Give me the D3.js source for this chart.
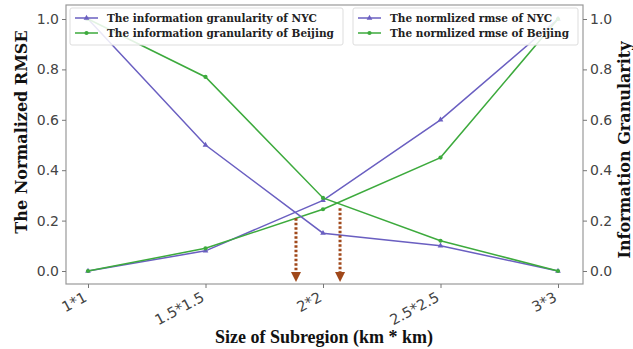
<!DOCTYPE html>
<html><head><meta charset="utf-8">
<script src="https://cdn.jsdelivr.net/npm/d3@7"></script>
<style>body{margin:0;background:#fff}svg{display:block}</style>
</head><body>
<svg id="c" width="633" height="349"></svg>
<script>
const categories = ["1*1","1.5*1.5","2*2","2.5*2.5","3*3"];
const nycGranularity = [1.0, 0.5, 0.15, 0.1, 0.0];
const beijingGranularity = [1.0, 0.77, 0.29, 0.12, 0.0];
const nycRmse = [0.0, 0.08, 0.28, 0.6, 1.0];
const beijingRmse = [0.0, 0.09, 0.245, 0.45, 1.0];
const yTicks = [0, 0.2, 0.4, 0.6, 0.8, 1.0];
// arrow markers: [x index position, value]
const arrowPoints = [[1.77, 0.225], [2.145, 0.265]];

const purple = "#6a5fc1", green = "#3daa3d", brown = "#a0481a";
const svg = d3.select("#c");
const L = 66, R = 583, T = 5, B = 284;
const x = d3.scaleLinear().domain([0, 4]).range([88, 558]);
const yL = d3.scaleLinear().domain([0, 1]).range([271, 19]);
const yR = d3.scaleLinear().domain([0, 1]).range([271, 19]);

// frame
svg.append("rect").attr("x", L).attr("y", T).attr("width", R - L).attr("height", B - T)
  .attr("fill", "none").attr("stroke", "#999").attr("stroke-width", 1.2);

const tickFont = "DejaVu Sans, sans-serif";
const gL = svg.append("g").attr("transform", `translate(${L},0)`)
  .call(d3.axisLeft(yL).tickValues(yTicks).tickFormat(d3.format(".1f")).tickSize(4).tickPadding(3));
const gR = svg.append("g").attr("transform", `translate(${R},0)`)
  .call(d3.axisRight(yR).tickValues(yTicks).tickFormat(d3.format(".1f")).tickSize(4).tickPadding(3));
const gX = svg.append("g").attr("transform", `translate(0,${B})`)
  .call(d3.axisBottom(x).tickValues(d3.range(5)).tickFormat(i => categories[i]).tickSize(4).tickPadding(4));
[gL, gR, gX].forEach(g => {
  g.select(".domain").remove();
  g.selectAll(".tick line").attr("stroke", "#777");
  g.selectAll("text").attr("font-family", tickFont).attr("font-size", 14).attr("fill", "#444");
});
gX.selectAll("text").attr("font-size", 14.5).attr("text-anchor", "end").attr("x", 0).attr("y", 0).attr("dy", "0.35em")
  .attr("transform", "translate(-3,12) rotate(-28)");

const line = (y) => d3.line().x((d, i) => x(i)).y(d => y(d));
function series(vals, y, color, marker) {
  svg.append("path").datum(vals).attr("d", line(y)).attr("fill", "none")
    .attr("stroke", color).attr("stroke-width", 1.5);
  svg.selectAll(null).data(vals).enter().append("path")
    .attr("transform", (d, i) => `translate(${x(i)},${y(d)})`)
    .attr("d", d3.symbol().type(marker).size(14)).attr("fill", color);
}
series(nycRmse, yL, purple, d3.symbolTriangle);
series(beijingRmse, yL, green, d3.symbolCircle);
series(nycGranularity, yR, purple, d3.symbolTriangle);
series(beijingGranularity, yR, green, d3.symbolCircle);

// arrows
arrowPoints.forEach(([xi, v]) => {
  const ax = x(xi), top = yL(v) + 4, bot = B - 2;
  svg.append("line").attr("x1", ax).attr("x2", ax).attr("y1", top).attr("y2", bot - 8)
    .attr("stroke", brown).attr("stroke-width", 3).attr("stroke-dasharray", "2.5,2");
  svg.append("path").attr("d", `M${ax - 5},${bot - 10}L${ax + 5},${bot - 10}L${ax},${bot}Z`).attr("fill", brown);
});

// legends
function legend(x0, y0, w, items) {
  svg.append("rect").attr("x", x0).attr("y", y0).attr("width", w).attr("height", 37)
    .attr("fill", "#fff").attr("fill-opacity", 0.85).attr("stroke", "#ddd").attr("rx", 2);
  items.forEach((it, k) => {
    const yy = y0 + 10 + k * 15;
    svg.append("line").attr("x1", x0 + 5).attr("x2", x0 + 28).attr("y1", yy).attr("y2", yy)
      .attr("stroke", it.c).attr("stroke-width", 1.5);
    svg.append("path").attr("transform", `translate(${x0 + 16.5},${yy})`)
      .attr("d", d3.symbol().type(it.m).size(14)).attr("fill", it.c);
    svg.append("text").attr("x", x0 + 37).attr("y", yy).attr("dy", "0.35em")
      .attr("font-family", "DejaVu Serif, serif").attr("font-weight", "bold")
      .attr("font-size", 10.5).attr("fill", "#222").text(it.t);
  });
}
legend(70, 8, 273, [
  {c: purple, m: d3.symbolTriangle, t: "The information granularity of NYC"},
  {c: green, m: d3.symbolCircle, t: "The information granularity of Beijing"}]);
legend(353, 8, 225, [
  {c: purple, m: d3.symbolTriangle, t: "The normlized rmse of NYC"},
  {c: green, m: d3.symbolCircle, t: "The normlized rmse of Beijing"}]);

// axis titles
svg.append("text").attr("transform", "translate(27,132) rotate(-90)").attr("text-anchor", "middle")
  .attr("font-family", "DejaVu Serif, serif").attr("font-weight", "bold").attr("font-size", 16)
  .attr("fill", "#111").text("The Normalized RMSE");
svg.append("text").attr("transform", "translate(630,150) rotate(-90)").attr("text-anchor", "middle")
  .attr("font-family", "DejaVu Serif, serif").attr("font-weight", "bold").attr("font-size", 16)
  .attr("fill", "#111").text("Information Granularity");
svg.append("text").attr("x", 324).attr("y", 343).attr("text-anchor", "middle")
  .attr("font-family", "Liberation Serif, serif").attr("font-weight", "bold").attr("font-size", 18)
  .attr("fill", "#111").text("Size of Subregion (km * km)");
</script>
</body></html>
